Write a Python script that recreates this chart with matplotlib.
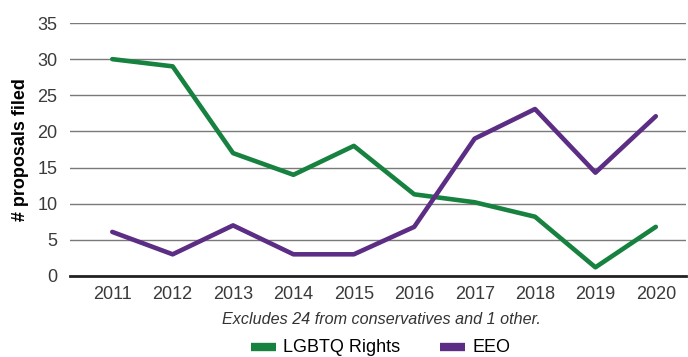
import matplotlib
matplotlib.use('Agg')
import matplotlib.pyplot as plt
from matplotlib import font_manager

years = ['2011', '2012', '2013', '2014', '2015', '2016', '2017', '2018', '2019', '2020']
lgbtq = [30, 29, 17, 14, 18, 11.3, 10.2, 8.2, 1.2, 6.8]
eeo = [6.1, 3, 7, 3, 3, 6.8, 19, 23.1, 14.3, 22.1]

names = {f.name for f in font_manager.fontManager.ttflist}
fam = 'Liberation Sans Narrow' if 'Liberation Sans Narrow' in names else 'Liberation Sans'
plt.rcParams['font.family'] = [fam, 'DejaVu Sans']

green = '#17813f'
purple = '#5c2d84'

fig = plt.figure(figsize=(6.88, 3.57), dpi=100)
ax = fig.add_axes([70 / 688, 1 - 276 / 357, 616 / 688, 253 / 357])

x = list(range(len(years)))
ax.plot(x, lgbtq, color=green, lw=3.3, label='LGBTQ Rights', solid_capstyle='round', zorder=3)
ax.plot(x, eeo, color=purple, lw=3.3, label='EEO', solid_capstyle='round', zorder=3)

ax.set_ylim(0, 35)
ax.set_xlim(-0.7, 9.5)
ax.set_yticks(range(0, 36, 5))
ax.set_xticks(x)
ax.set_xticklabels(years)
ax.grid(axis='y', color='#7a7a7a', lw=1)
ax.set_axisbelow(True)
for s in ['top', 'right', 'left']:
    ax.spines[s].set_visible(False)
ax.spines['bottom'].set_color('#222222')
ax.spines['bottom'].set_linewidth(2)
ax.tick_params(length=0, labelsize=13, colors='#3a3a3a')
ax.tick_params(axis='y', pad=9)
ax.tick_params(axis='x', pad=7)
ax.set_ylabel('# proposals filed', fontsize=13, fontweight='bold', labelpad=6)

fig.text(0.555, 1 - 319 / 357, 'Excludes 24 from conservatives and 1 other.',
         fontsize=11.6, style='italic', ha='center', va='center', color='#333333')
fig.legend(loc='center', bbox_to_anchor=(0.553, 1 - 348 / 357), ncol=2, frameon=False,
           fontsize=13, handlelength=1.4, handleheight=0.5, columnspacing=2.2,
           handletextpad=0.4, borderpad=0)
leg = fig.legends[0]
for h in leg.legend_handles:
    h.set_linewidth(6)
    h.set_solid_capstyle('butt')

fig.savefig('out.png', dpi=100)
